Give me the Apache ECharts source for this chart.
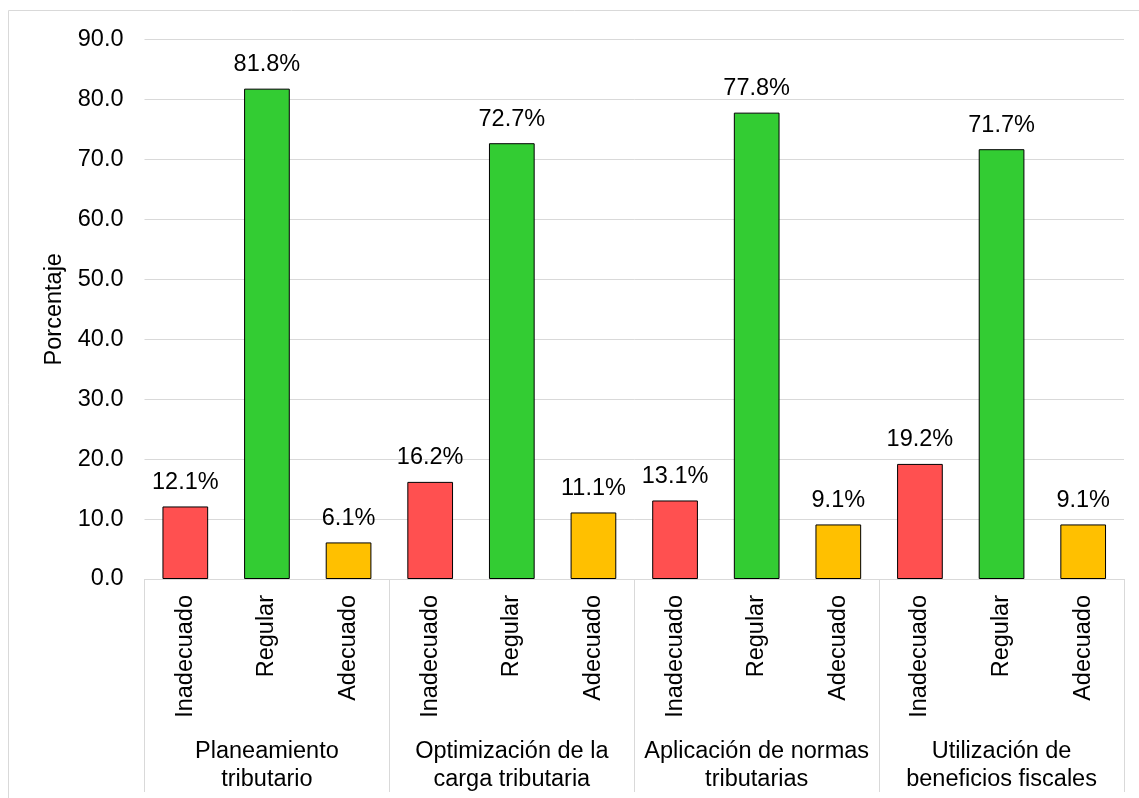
<!DOCTYPE html>
<html>
<head>
<meta charset="utf-8">
<script src="https://cdn.jsdelivr.net/npm/echarts@6/dist/echarts.min.js"></script>
<style>
  html, body { margin: 0; padding: 0; background: #fff; }
  #chart { width: 1139px; height: 798px; }
</style>
</head>
<body>
<div id="chart"></div>
<script>
// dimensiones y niveles
const dimensiones = ['Planeamiento\ntributario', 'Optimización de la\ncarga tributaria', 'Aplicación de normas\ntributarias', 'Utilización de\nbeneficios fiscales']
const niveles = ['Inadecuado', 'Regular', 'Adecuado']
const inadecuado = [12.1, 16.2, 13.1, 19.2]
const regular = [81.8, 72.7, 77.8, 71.7]
const adecuado = [6.1, 11.1, 9.1, 9.1]
const colores = ['#FF5050', '#33CC33', '#FFC000']

const FONT = 'Liberation Sans, Arial, sans-serif'
const FS = 23.5

// una categoría por barra
const categorias = []
const barras = []
const valores = [inadecuado, regular, adecuado]
dimensiones.forEach((d, i) => {
  niveles.forEach((n, j) => {
    categorias.push(n)
    barras.push({ value: valores[j][i], itemStyle: { color: colores[j] } })
  })
})

const chart = echarts.init(document.getElementById('chart'))
chart.setOption({
  animation: false,
  textStyle: { fontFamily: FONT },
  graphic: [{
    type: 'rect',
    shape: { x: 8.5, y: 10.5, width: 1200, height: 900 },
    style: { fill: 'none', stroke: '#D9D9D9', lineWidth: 1 },
    z: -1
  }],
  grid: { left: 144.5, right: 15, top: 39.5, bottom: 219 },
  xAxis: [{
    type: 'category',
    data: categorias,
    position: 'bottom',
    axisLine: { lineStyle: { color: '#D9D9D9', width: 1 } },
    axisTick: { show: false },
    axisLabel: { rotate: 90, margin: 16, fontSize: FS, color: '#000', fontFamily: FONT, interval: 0 }
  }, {
    type: 'category',
    data: dimensiones,
    position: 'bottom',
    axisLine: { show: false },
    axisTick: { show: true, length: 213, lineStyle: { color: '#D9D9D9', width: 1 } },
    axisLabel: { margin: 159, fontSize: FS, lineHeight: 28, color: '#000', fontFamily: FONT, interval: 0 }
  }],
  yAxis: {
    type: 'value',
    min: 0,
    max: 90,
    interval: 10,
    name: 'Porcentaje',
    nameLocation: 'middle',
    nameRotate: 90,
    nameGap: 71,
    nameTextStyle: { fontSize: FS, color: '#000', fontFamily: FONT },
    axisLine: { show: false },
    axisTick: { show: false },
    splitLine: { lineStyle: { color: '#D9D9D9', width: 1 } },
    axisLabel: { margin: 21, fontSize: FS, color: '#000', fontFamily: FONT, formatter: v => v.toFixed(1) }
  },
  series: [{
    type: 'bar',
    xAxisIndex: 0,
    data: barras,
    barWidth: '56%',
    itemStyle: { borderColor: '#000', borderWidth: 1 },
    label: {
      show: true,
      position: 'top',
      distance: 12,
      fontSize: FS,
      color: '#000',
      fontFamily: FONT,
      formatter: p => p.value.toFixed(1) + '%'
    }
  }]
})
</script>
</body>
</html>
